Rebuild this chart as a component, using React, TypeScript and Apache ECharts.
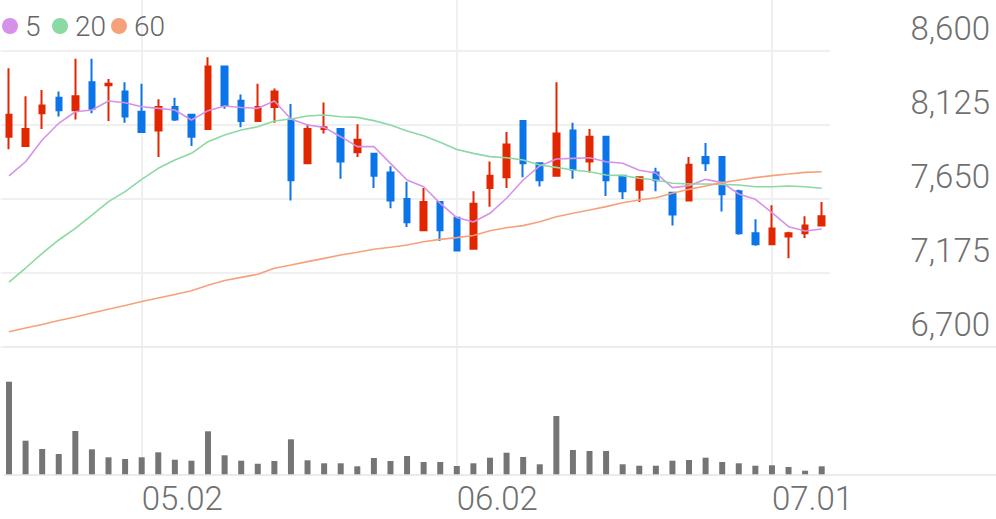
import React, { useEffect, useRef } from "react";
import * as echarts from "echarts";

const dates = [
  "04.21", "04.22", "04.23", "04.24", "04.25", "04.28", "04.29", "04.30",
  "05.02", "05.07", "05.08", "05.09", "05.12", "05.13", "05.14", "05.15", "05.16",
  "05.19", "05.20", "05.21", "05.22", "05.23", "05.26", "05.27", "05.28", "05.29", "05.30",
  "06.02", "06.04", "06.05", "06.09", "06.10", "06.11", "06.12", "06.13",
  "06.16", "06.17", "06.18", "06.19", "06.20", "06.23", "06.24", "06.25", "06.26", "06.27",
  "06.30", "07.01", "07.02", "07.03", "07.04",
];

const labelDates = ["05.02", "06.02", "07.01"];

// [open, close, low, high]
const ohlc = [
  [8050, 8190, 7970, 8490], [7990, 8100, 7990, 8310], [8200, 8250, 8100, 8350], [8300, 8220, 8180, 8340],
  [8220, 8310, 8160, 8550], [8400, 8230, 8200, 8550], [8380, 8390, 8150, 8420], [8340, 8180, 8140, 8400],
  [8210, 8080, 8080, 8390], [8090, 8240, 7920, 8290], [8240, 8160, 8150, 8300], [8190, 8050, 7990, 8190],
  [8100, 8500, 8100, 8560], [8500, 8250, 8230, 8500], [8280, 8150, 8110, 8320], [8150, 8240, 8150, 8390],
  [8240, 8340, 8140, 8360], [8160, 7770, 7640, 8260], [7880, 8100, 7880, 8130], [8100, 8110, 8070, 8270],
  [8100, 7890, 7780, 8100], [7950, 8030, 7920, 8130], [7940, 7800, 7720, 7940], [7820, 7640, 7590, 7860],
  [7650, 7500, 7470, 7760], [7450, 7630, 7450, 7720], [7630, 7450, 7380, 7630], [7530, 7320, 7320, 7530],
  [7330, 7620, 7330, 7700], [7720, 7800, 7600, 7890], [7790, 8000, 7720, 8080], [8150, 7880, 7790, 8150],
  [7880, 7770, 7730, 7880], [7800, 8070, 7800, 8400], [8090, 7840, 7780, 8140], [7890, 8050, 7820, 8100],
  [8050, 7770, 7670, 8050], [7800, 7700, 7650, 7800], [7710, 7790, 7630, 7790], [7820, 7770, 7700, 7850],
  [7690, 7550, 7480, 7690], [7640, 7870, 7640, 7920], [7920, 7880, 7830, 8010], [7920, 7680, 7570, 7920],
  [7700, 7430, 7420, 7710], [7430, 7360, 7350, 7520], [7360, 7460, 7360, 7610], [7410, 7430, 7270, 7440],
  [7430, 7480, 7400, 7540], [7480, 7540, 7480, 7630],
];

const ma5 = [
  7798, 7889, 8029, 8136, 8210, 8221, 8279, 8268, 8242, 8232,
  8221, 8157, 8217, 8247, 8237, 8232, 8279, 8164, 8125, 8110,
  8050, 7986, 7986, 7879, 7772, 7729, 7622, 7531, 7502, 7558,
  7655, 7772, 7862, 7907, 7911, 7915, 7889, 7879, 7834, 7817,
  7723, 7735, 7776, 7755, 7682, 7648, 7562, 7472, 7445, 7457,
];

const ma20 = [
  7117, 7207, 7301, 7387, 7462, 7547, 7633, 7697, 7776, 7847,
  7900, 7943, 8018, 8061, 8093, 8114, 8151, 8164, 8183, 8189,
  8178, 8174, 8153, 8125, 8086, 8056, 8014, 7968, 7943, 7922,
  7915, 7900, 7868, 7853, 7836, 7825, 7804, 7800, 7783, 7772,
  7751, 7746, 7746, 7744, 7740, 7729, 7729, 7733, 7729, 7719,
];

const ma60 = [
  6798, 6822, 6844, 6870, 6893, 6918, 6942, 6966, 6992, 7015,
  7037, 7061, 7096, 7127, 7147, 7167, 7205, 7226, 7248, 7269,
  7291, 7308, 7327, 7340, 7355, 7376, 7391, 7402, 7416, 7446,
  7466, 7479, 7504, 7536, 7558, 7579, 7601, 7626, 7644, 7658,
  7687, 7712, 7733, 7755, 7772, 7787, 7800, 7810, 7821, 7825,
];

const volumes = [
  92600, 33600, 25300, 20300, 43300, 25000, 17000, 15300, 17000, 22000,
  14600, 13600, 43000, 19000, 13600, 10600, 13300, 35000, 14000, 11000,
  11000, 8000, 16300, 13300, 18300, 12300, 12300, 8300, 11000, 16600,
  21600, 17300, 10000, 58300, 24300, 23300, 23300, 10000, 8600, 8600,
  13600, 14300, 16600, 12300, 11000, 8600, 9000, 7300, 3600, 8000,
];

const priceTicks = [6700, 7175, 7650, 8125, 8600];

const maNames = ["5", "20", "60"];
const maColors = ["#d592e8", "#8bd9a3", "#f5a27a"];
const legendX = [10, 60, 119];

const UP = "#e22600";
const DOWN = "#0a74e8";
const GRID_LINE = "#f0f0f0";
const FONT = "Roboto, 'Noto Sans', sans-serif";

export default function App() {
  const ref = useRef<HTMLDivElement>(null);

  useEffect(() => {
    if (!ref.current) return;
    const chart = echarts.init(ref.current, null, { renderer: "svg" });
    const labelIdx = labelDates.map((d) => dates.indexOf(d));

    const legendGraphics: any[] = [];
    maNames.forEach((name, k) => {
      legendGraphics.push({
        type: "circle",
        shape: { cx: legendX[k], cy: 26, r: 8 },
        style: { fill: maColors[k] },
        z: 10,
      });
      legendGraphics.push({
        type: "text",
        x: legendX[k] + 15,
        y: 26,
        style: {
          text: name,
          fill: "#666",
          font: `300 28px ${FONT}`,
          verticalAlign: "middle",
          align: "left",
        },
        z: 10,
      });
    });

    const option: any = {
      animation: false,
      backgroundColor: "#ffffff",
      textStyle: { fontFamily: FONT },
      grid: [
        { left: 0.7, width: 829.3, top: 51, height: 296 },
        { left: 0.7, width: 829.3, top: 370, height: 104.3 },
        { left: 9, width: 812.7, top: 0, height: 475 },
      ],
      xAxis: [
        {
          type: "category", gridIndex: 0, data: dates, boundaryGap: true,
          axisLine: { show: false }, axisTick: { show: false }, axisLabel: { show: false }, splitLine: { show: false },
        },
        {
          type: "category", gridIndex: 1, data: dates, boundaryGap: true,
          axisLine: { show: false }, axisTick: { show: false }, axisLabel: { show: false }, splitLine: { show: false },
        },
        {
          type: "category", gridIndex: 2, data: dates, boundaryGap: false,
          axisLine: { show: false }, axisTick: { show: false },
          splitLine: {
            show: true,
            interval: (i: number) => labelIdx.includes(i),
            lineStyle: { color: GRID_LINE, width: 2 },
          },
          axisLabel: {
            show: true,
            interval: (i: number) => labelIdx.includes(i),
            align: "left",
            margin: 7,
            fontSize: 33,
            fontWeight: 300,
            color: "#707070",
            fontFamily: FONT,
          },
        },
      ],
      yAxis: [
        {
          type: "value", gridIndex: 0, position: "right", min: 6700, max: 8600,
          axisLine: { show: false },
          axisTick: { show: false, customValues: priceTicks },
          splitLine: { show: true, lineStyle: { color: GRID_LINE, width: 2 } },
          axisLabel: {
            customValues: priceTicks,
            align: "right",
            verticalAlign: "bottom",
            lineHeight: 45,
            margin: 160,
            fontSize: 33,
            fontWeight: 300,
            color: "#707070",
            fontFamily: FONT,
            formatter: (v: number) => v.toLocaleString("en-US"),
          },
        },
        {
          type: "value", gridIndex: 1, min: 0, max: 104300, show: false,
          splitLine: { show: false },
        },
        {
          type: "value", gridIndex: 2, show: false, splitLine: { show: false },
        },
      ],
      graphic: [
        { type: "line", shape: { x1: 4, y1: 347, x2: 996, y2: 347 }, style: { stroke: "#ebebeb", lineWidth: 2 }, z: 1 },
        { type: "line", shape: { x1: 4, y1: 475, x2: 996, y2: 475 }, style: { stroke: "#ebebeb", lineWidth: 2 }, z: 1 },
        ...legendGraphics,
      ],
      series: [
        {
          type: "candlestick",
          xAxisIndex: 0,
          yAxisIndex: 0,
          data: ohlc,
          barWidth: 6,
          itemStyle: {
            color: UP,
            color0: DOWN,
            borderColor: UP,
            borderColor0: DOWN,
            borderWidth: 2,
          },
          z: 3,
        },
        ...maNames.map((name, k) => ({
          name,
          type: "line",
          xAxisIndex: 0,
          yAxisIndex: 0,
          data: [ma5, ma20, ma60][k],
          symbol: "none",
          smooth: false,
          color: maColors[k],
          lineStyle: { color: maColors[k], width: 1.6 },
          z: 4,
        })),
        {
          type: "bar",
          xAxisIndex: 1,
          yAxisIndex: 1,
          data: volumes,
          barWidth: 6,
          itemStyle: { color: "#757575" },
          z: 3,
        },
      ],
    };

    chart.setOption(option);
    return () => chart.dispose();
  }, []);

  return (
    <div
      ref={ref}
      style={{ position: "fixed", left: 0, top: 0, width: 996, height: 519 }}
    />
  );
}
